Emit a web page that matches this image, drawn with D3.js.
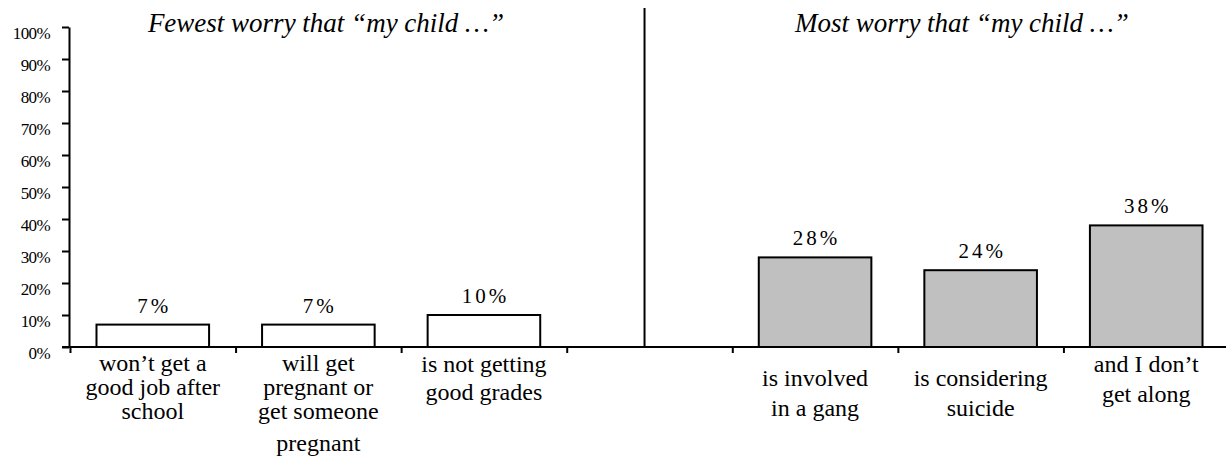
<!DOCTYPE html>
<html>
<head>
<meta charset="utf-8">
<script src="https://cdn.jsdelivr.net/npm/d3@7"></script>
<style>
  body { margin: 0; background: #fff; }
</style>
</head>
<body>
<div id="chart"></div>
<script>
// data
var categories = ["won\u2019t get a good job after school", "will get pregnant or get someone pregnant",
  "is not getting good grades", "", "is involved in a gang", "is considering suicide", "and I don\u2019t get along"];
var values = [7, 7, 10, null, 28, 24, 38];
var groups = ["fewest", "fewest", "fewest", null, "most", "most", "most"];
var labelLines = [
  ["won\u2019t get a", "good job after", "school"],
  ["will get", "pregnant or", "get someone", "pregnant"],
  ["is not getting", "good grades"],
  [],
  ["is involved", "in a gang"],
  ["is considering", "suicide"],
  ["and I don\u2019t", "get along"]
];
var yTicks = [0, 10, 20, 30, 40, 50, 60, 70, 80, 90, 100];
var titles = ["Fewest worry that \u201cmy child \u2026\u201d", "Most worry that \u201cmy child \u2026\u201d"];

// layout
var FONT = "'Liberation Serif', 'Times New Roman', Times, serif";
var svgWidth = 1226, svgHeight = 463;
var axisX = 70, axisRight = 1229;
var y0 = 347, y100 = 27;
// baselines of the label lines, per category
var lineY = [
  [371, 395, 419],
  [371, 395, 419, 451],
  [372, 400],
  [],
  [386, 416],
  [386, 416],
  [372, 402]
];

var svg = d3.select("#chart").append("svg")
  .attr("width", svgWidth)
  .attr("height", svgHeight);

var x = d3.scaleBand()
  .domain(d3.range(categories.length))
  .range([axisX, axisRight])
  .paddingInner(0);

// category boundaries (x axis ticks)
var xb = d3.scaleLinear()
  .domain([0, categories.length])
  .range([axisX, axisRight]);

var y = d3.scaleLinear()
  .domain([0, 100])
  .range([y0, y100]);

// y axis
var yAxis = svg.append("g")
  .attr("transform", `translate(${axisX - 1}, 0)`)
  .call(d3.axisLeft(y).tickValues(yTicks).tickSize(7).tickSizeOuter(0).tickPadding(12)
    .tickFormat(d => d + "%"));
yAxis.select(".domain").attr("stroke", "#000").attr("stroke-width", 2);
yAxis.selectAll(".tick line").attr("stroke", "#000").attr("stroke-width", 2);
yAxis.selectAll(".tick text")
  .style("font-family", FONT)
  .attr("font-size", 17)
  .attr("dy", "0.66em")
  .attr("letter-spacing", "-0.6px")
  .attr("fill", "#000");

// divider between the two groups
svg.append("line")
  .attr("x1", xb(3.47)).attr("x2", xb(3.47))
  .attr("y1", 8).attr("y2", y0)
  .attr("stroke", "#000").attr("stroke-width", 2);

// bars
var barW = x.bandwidth() * 0.68;
var barData = values.map((v, i) => ({ v: v, i: i, g: groups[i] })).filter(d => d.v != null);

svg.selectAll("rect.bar")
  .data(barData)
  .enter()
  .append("rect")
  .attr("class", "bar")
  .attr("x", d => x(d.i) + (x.bandwidth() - barW) / 2)
  .attr("y", d => y(d.v))
  .attr("width", barW)
  .attr("height", d => y(0) - y(d.v))
  .attr("fill", d => d.g == "most" ? "#c0c0c0" : "#fff")
  .attr("stroke", "#000")
  .attr("stroke-width", 2);

// value labels
svg.selectAll("text.val")
  .data(barData)
  .enter()
  .append("text")
  .attr("class", "val")
  .attr("x", d => x(d.i) + x.bandwidth() / 2 + 1.5)
  .attr("y", d => y(d.v) - 12)
  .attr("text-anchor", "middle")
  .style("font-family", FONT)
  .attr("font-size", 21)
  .attr("letter-spacing", "3px")
  .text(d => d.v + "%");

// x axis line + ticks
svg.append("line")
  .attr("x1", 62).attr("x2", svgWidth)
  .attr("y1", y0).attr("y2", y0)
  .attr("stroke", "#000").attr("stroke-width", 2);

var xAxis = svg.append("g")
  .attr("transform", `translate(0, ${y0})`)
  .call(d3.axisBottom(xb).tickValues(d3.range(categories.length)).tickSize(6).tickFormat(""));
xAxis.select(".domain").remove();
xAxis.selectAll(".tick line").attr("stroke", "#000").attr("stroke-width", 2);

// category labels
labelLines.forEach(function(lines, i) {
  lines.forEach(function(line, j) {
    svg.append("text")
      .attr("class", "cat")
      .attr("x", x(i) + x.bandwidth() / 2)
      .attr("y", lineY[i][j])
      .attr("text-anchor", "middle")
      .style("font-family", FONT)
      .attr("font-size", 24)
      .text(line);
  });
});

// panel titles
svg.append("text")
  .attr("x", 326).attr("y", 32)
  .attr("text-anchor", "middle")
  .style("font-family", FONT)
  .attr("font-style", "italic")
  .attr("font-size", 27)
  .text(titles[0]);

svg.append("text")
  .attr("x", 962).attr("y", 32)
  .attr("text-anchor", "middle")
  .style("font-family", FONT)
  .attr("font-style", "italic")
  .attr("font-size", 27)
  .text(titles[1]);
</script>
</body>
</html>
